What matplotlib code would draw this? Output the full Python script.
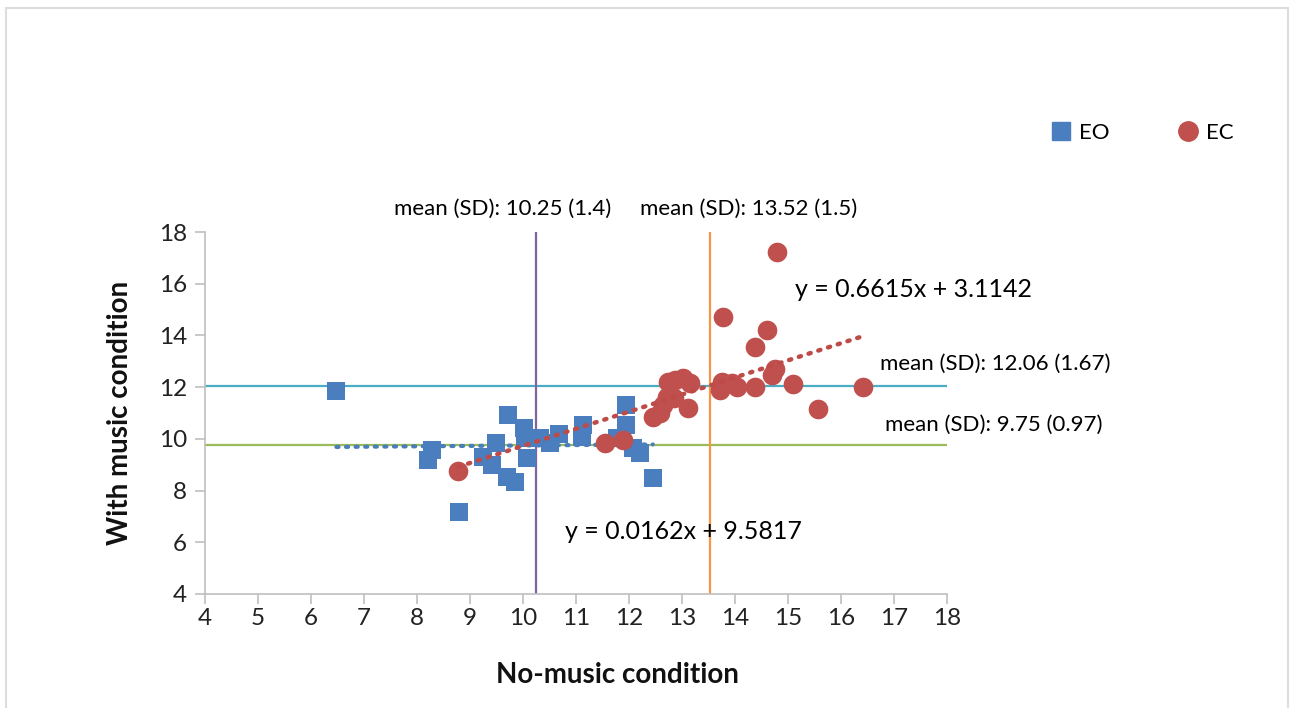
import matplotlib
matplotlib.use("Agg")
import matplotlib.pyplot as plt
from matplotlib.patches import Rectangle
from matplotlib.lines import Line2D
import numpy as np

plt.rcParams['font.family'] = ['Lato', 'DejaVu Sans']

# ---- data ----
eo_x = [6.48, 8.28, 8.20, 8.80, 9.25, 9.41, 9.50, 9.69, 9.85, 9.72, 10.01, 10.04,
        10.07, 10.32, 10.51, 10.67, 11.14, 11.11, 11.94, 11.94, 11.77, 12.08, 12.21, 12.45]
eo_y = [11.86, 9.57, 9.18, 7.18, 9.31, 8.99, 9.83, 8.54, 8.32, 10.92, 10.41, 10.02,
        9.25, 10.02, 9.83, 10.18, 10.53, 10.08, 11.31, 10.53, 10.02, 9.63, 9.44, 8.47]
ec_x = [8.78, 11.55, 11.89, 12.46, 12.58, 12.65, 12.71, 12.84, 12.74, 12.87, 13.02, 13.15,
        13.12, 13.72, 13.75, 13.94, 14.03, 13.78, 14.38, 14.38, 14.60, 14.69, 14.75, 14.79,
        15.10, 15.57, 16.42]
ec_y = [8.77, 9.83, 9.95, 10.86, 10.99, 11.31, 11.63, 11.57, 12.21, 12.28, 12.34, 12.15,
        11.18, 11.89, 12.21, 12.15, 12.02, 14.70, 11.99, 13.54, 14.21, 12.47, 12.69, 17.24,
        12.12, 11.14, 11.99]
eo_fit = (0.0162, 9.5817)
ec_fit = (0.6615, 3.1142)
eo_mean_x, ec_mean_x = 10.25, 13.52
eo_mean_y, ec_mean_y = 9.75, 12.06
x_ticks = list(range(4, 19))
y_ticks = list(range(4, 19, 2))

labels = {
    'eo_mx': 'mean (SD): 10.25 (1.4)',
    'ec_mx': 'mean (SD): 13.52 (1.5)',
    'ec_my': 'mean (SD): 12.06 (1.67)',
    'eo_my': 'mean (SD): 9.75 (0.97)',
    'ec_eq': 'y = 0.6615x + 3.1142',
    'eo_eq': 'y = 0.0162x + 9.5817',
}

BLUE = '#4A7EBF'
RED = '#C0504D'

W, H = 1290, 708
fig = plt.figure(figsize=(W / 100, H / 100), dpi=100)
fig.patches.append(Rectangle((6 / W, -0.01), (1288 - 6) / W, (H - 8) / H + 0.01,
                             transform=fig.transFigure, fill=False,
                             edgecolor='#DDDDDD', linewidth=1.5))

ax = fig.add_axes([205 / W, (H - 594) / H, (947 - 205) / W, (594 - 232) / H])
ax.set_xlim(4, 18)
ax.set_ylim(4, 18)

# mean lines
ax.plot([4, 18], [ec_mean_y, ec_mean_y], color='#4BACC6', lw=1.6, zorder=1)
ax.plot([4, 18], [eo_mean_y, eo_mean_y], color='#9BBB59', lw=1.6, zorder=1)
ax.plot([eo_mean_x, eo_mean_x], [4, 18], color='#8064A2', lw=1.6, zorder=1)
ax.plot([ec_mean_x, ec_mean_x], [4, 18], color='#F79646', lw=1.6, zorder=1)

# scatter
ax.scatter(eo_x, eo_y, marker='s', s=160, color=BLUE, linewidths=0, zorder=3)
ax.scatter(ec_x, ec_y, marker='o', s=200, color=RED, linewidths=0, zorder=4)

# trendlines
xs = np.array([min(eo_x), max(eo_x)])
ax.plot(xs, eo_fit[0] * xs + eo_fit[1], color='#4A7EBB', lw=3.0,
        linestyle=(0, (0.5, 1.8)), dash_capstyle='round', zorder=2)
xs = np.array([min(ec_x), max(ec_x)])
ax.plot(xs, ec_fit[0] * xs + ec_fit[1], color='#BE4B48', lw=3.2,
        linestyle=(0, (0.5, 1.8)), dash_capstyle='round', zorder=5)

# axes styling
for s in ['top', 'right']:
    ax.spines[s].set_visible(False)
for s in ['left', 'bottom']:
    ax.spines[s].set_color('#BFBFBF')
    ax.spines[s].set_linewidth(1.2)
ax.set_xticks(x_ticks)
ax.set_yticks(y_ticks)
ax.tick_params(axis='both', colors='#BFBFBF', labelcolor='#222222',
               labelsize=17.5, length=7, width=1.2, direction='out')
ax.tick_params(axis='x', pad=3)
ax.tick_params(axis='y', pad=6)
ax.set_xlabel('No-music condition', fontsize=20, fontweight='bold', color='#111111')
ax.set_ylabel('With music condition', fontsize=20, fontweight='bold', color='#111111')
ax.xaxis.label.set_va('center')
ax.yaxis.label.set_va('center')
ax.xaxis.set_label_coords((617 - 205) / (947 - 205), (594 - 675) / (594 - 232))
ax.yaxis.set_label_coords((120 - 205) / (947 - 205), 0.5)

# annotations
fs_m = 16
fs_eq = 18
ax.text(9.62, 18.89, labels['eo_mx'], fontsize=fs_m, ha='center', va='center',
        clip_on=False)
ax.text(14.26, 18.89, labels['ec_mx'], fontsize=fs_m, ha='center', va='center',
        clip_on=False)
ax.text(15.13, 15.76, labels['ec_eq'], fontsize=fs_eq, ha='left', va='center',
        clip_on=False)
ax.text(16.74, 12.89, labels['ec_my'], fontsize=fs_m, ha='left', va='center',
        clip_on=False)
ax.text(16.83, 10.54, labels['eo_my'], fontsize=fs_m, ha='left', va='center',
        clip_on=False)
ax.text(10.79, 6.40, labels['eo_eq'], fontsize=fs_eq, ha='left', va='center',
        clip_on=False)

# legend
handles = [Line2D([], [], marker='s', linestyle='none', color=BLUE, markersize=13),
           Line2D([], [], marker='o', linestyle='none', color=RED, markersize=14)]
fig.legend(handles, ['EO', 'EC'], loc='center left',
           bbox_to_anchor=(1030 / W, (H - 133) / H), ncol=2, frameon=False,
           fontsize=16, handletextpad=0.3, columnspacing=3.05, handlelength=1.0)

fig.savefig('out.png', dpi=100)
